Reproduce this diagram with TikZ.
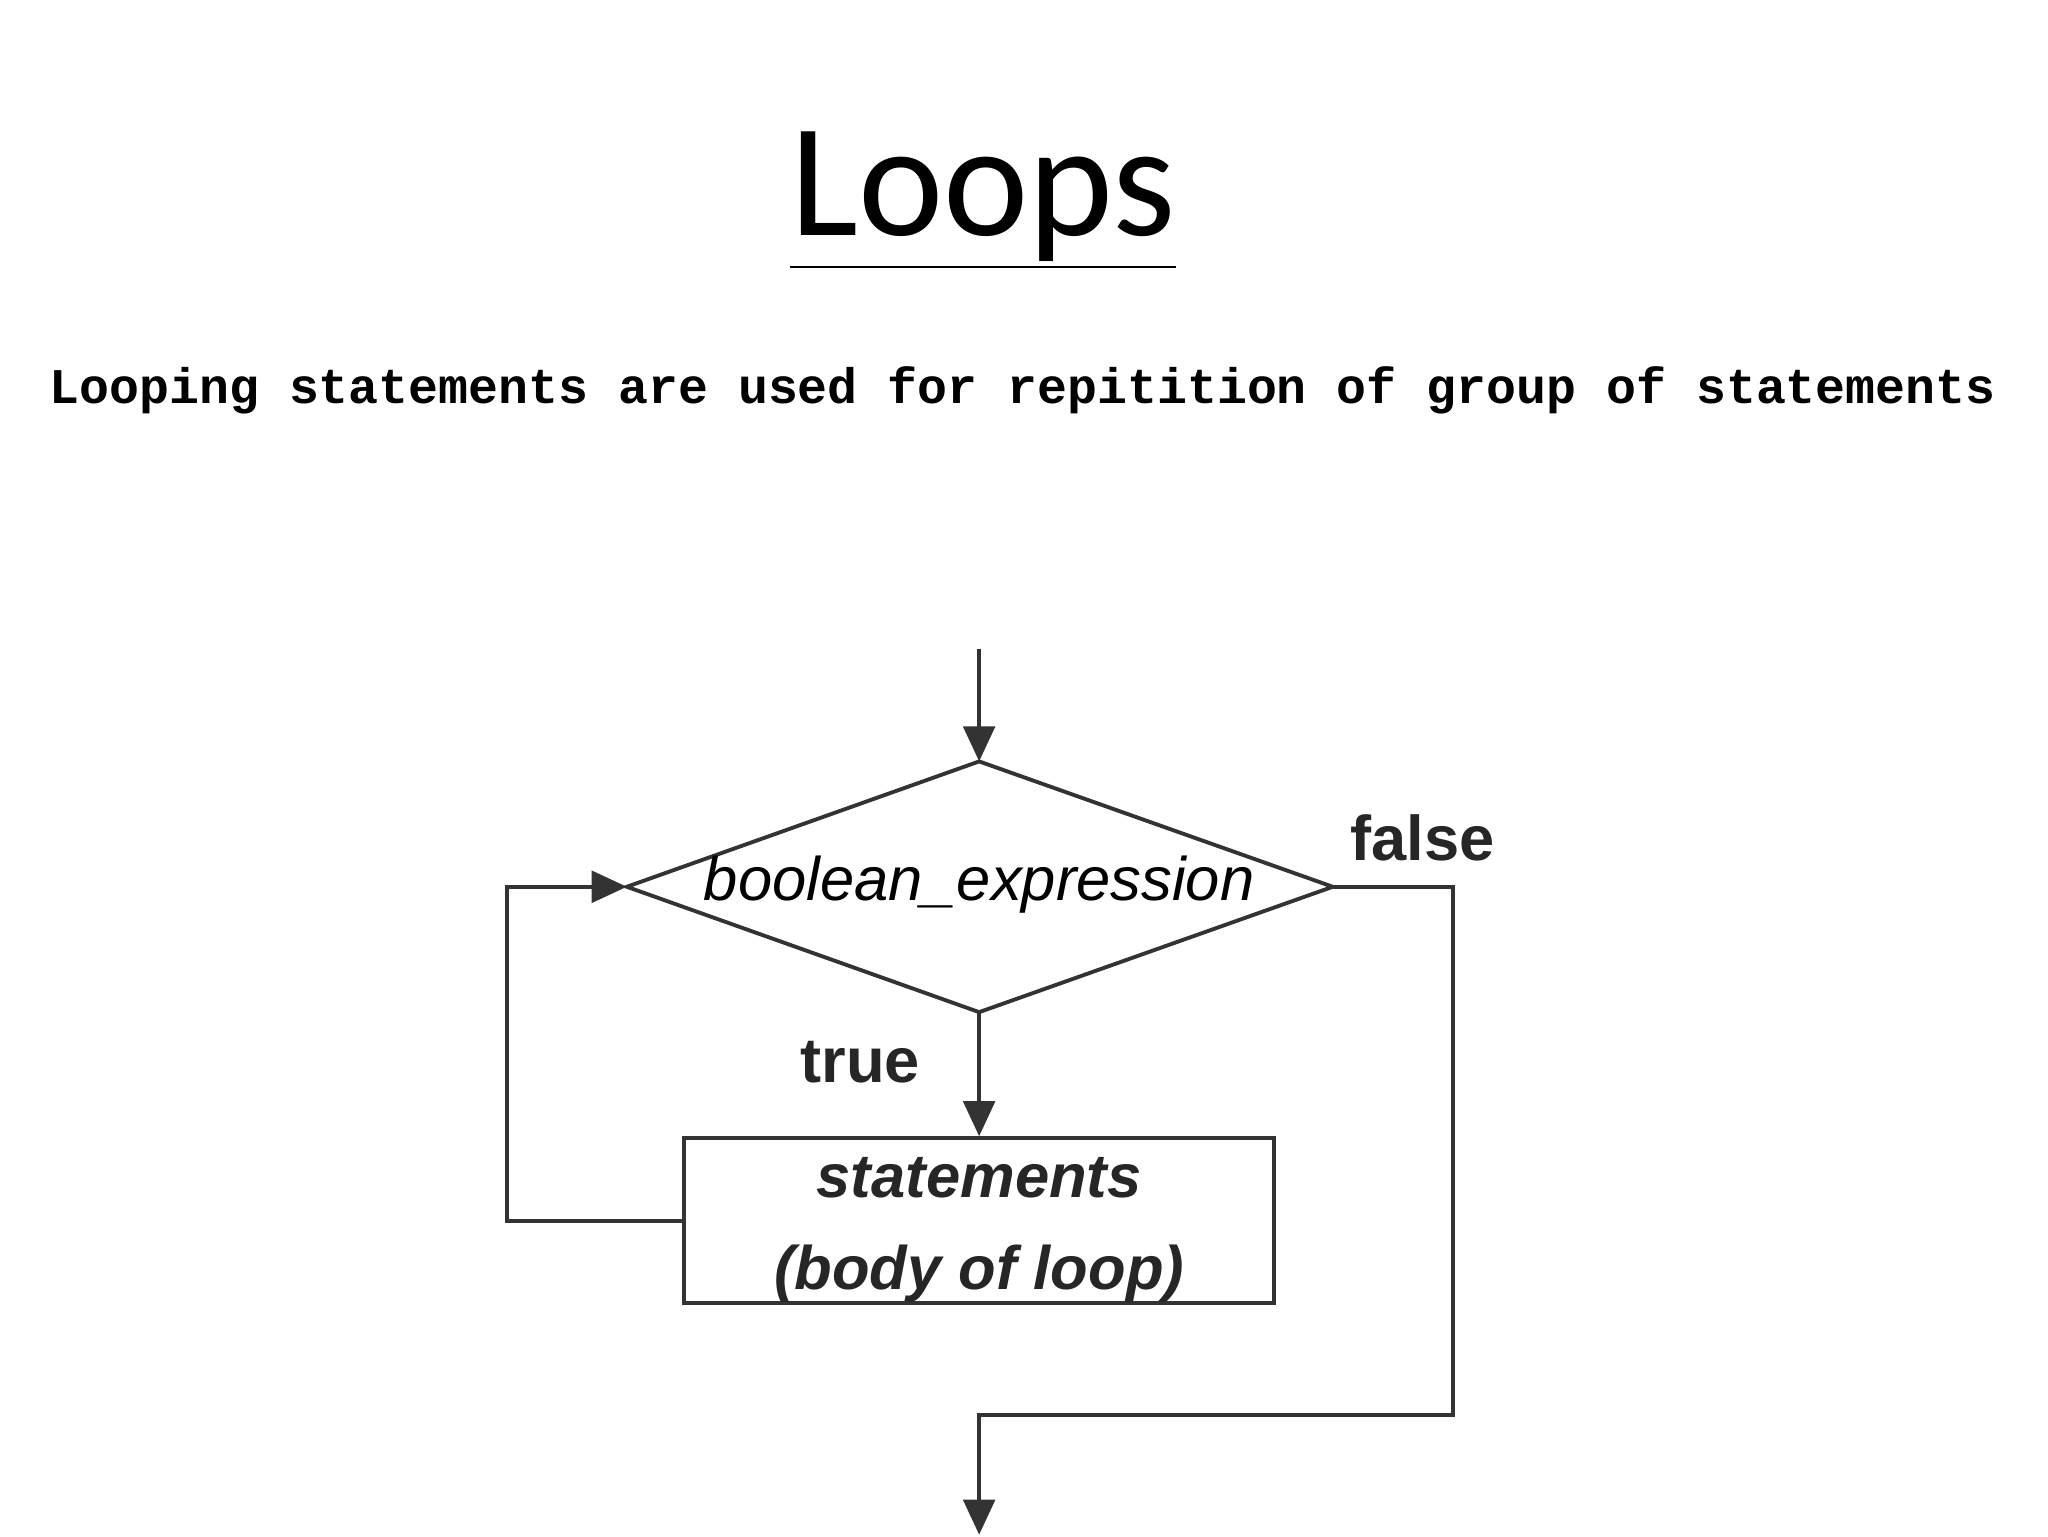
\documentclass[tikz,border=0pt]{standalone}
\usepackage{fontspec}
\setmainfont{Liberation Sans}
\newfontfamily\titlefont{Carlito}
\newfontfamily\codefont{Liberation Mono}
\usetikzlibrary{shapes.geometric,arrows.meta}
\begin{document}
\begin{tikzpicture}[x=0.0132cm,y=-0.0132cm,
  flow/.style={draw=black!80,line width=1.1pt,-{Triangle[length=10pt,width=9pt]}},
  line/.style={draw=black!80,line width=1.1pt},
  lbl/.style={font=\fontsize{18}{20}\selectfont\bfseries,text=black!85}]
\useasboundingbox (0,0) rectangle (1552,1164);
\node[font=\titlefont\fontsize{46}{50}\selectfont] (title) at (745,152) {\underline{Loops}};
\node[font=\codefont\bfseries\fontsize{14.2}{16}\selectfont] (sub) at (775,296) {Looping statements are used for repitition of group of statements};
\coordinate (start) at (742,492);
\coordinate (dt) at (742,577);
\coordinate (dl) at (475,672);
\coordinate (dr) at (1010,672);
\coordinate (db) at (742,767);
\draw[line] (dt) -- (dr) -- (db) -- (dl) -- cycle;
\node[font=\itshape\fontsize{17.5}{20}\selectfont] (cond) at (742,670) {boolean\_expression};
\node[draw=black!80,line width=1.1pt,minimum width=447\pgflinewidth,inner sep=0pt] (box) at (742,925) [minimum width=5.9cm,minimum height=1.65cm] {};
\node[font=\itshape\bfseries\fontsize{17.5}{20}\selectfont,align=center,text=black!85] (body) at (742,932) {statements\\[6pt](body of loop)};
\node[lbl] (false) at (1078,635) {false};
\node[lbl] (true) at (652,805) {true};
\coordinate (end) at (742,1163);
\draw[flow] (start) -- (dt);
\draw[flow] (db) -- (box.north);
\draw[flow] (box.west) -| (384,672) -- (dl);
\draw[flow] (dr) -- (1101,672) |- (742,1072) -- (end);
\end{tikzpicture}
\end{document}
